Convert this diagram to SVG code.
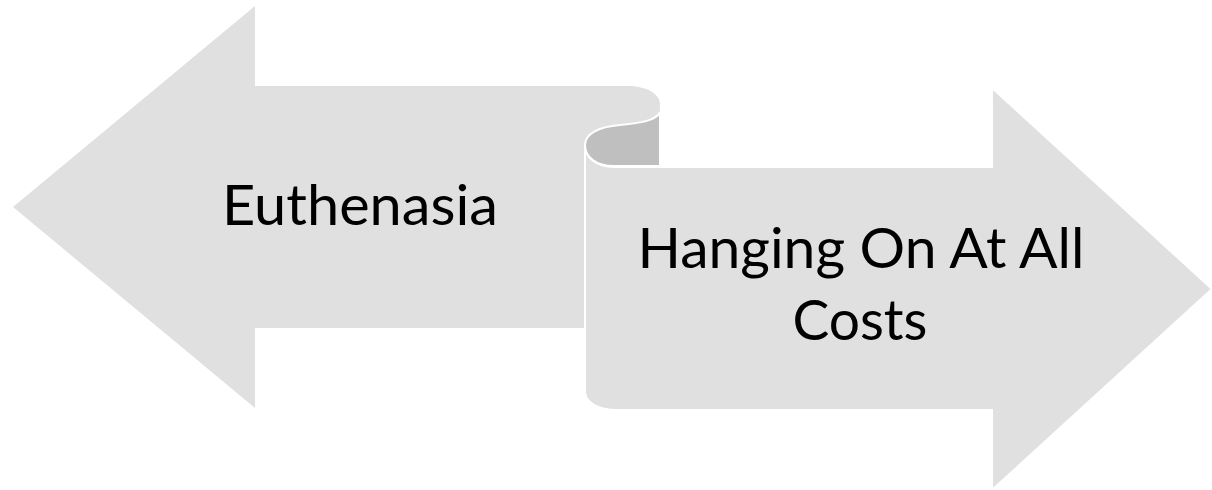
<svg xmlns="http://www.w3.org/2000/svg" width="1212" height="490" viewBox="0 0 1212 490">
  <style>
    .light { fill: #e0e0e0; }
    .edge { stroke: #ffffff; stroke-width: 2; }
    .dark { fill: #bfbfbf; }
    .label { font-family: Lato, "Liberation Sans", Arial, sans-serif; font-size: 56px; fill: #000000; text-anchor: middle; }
  </style>
  <rect width="1212" height="490" fill="#ffffff"/>
  <g id="node-euthenasia">
    <path class="light" d="M13,207 L255,6 L255,86 L627,86 C647,86 660,94 660,104 L660,328 L255,328 L255,408 Z"/>
    <text class="label" x="360" y="225" textLength="276" lengthAdjust="spacingAndGlyphs">Euthenasia</text>
  </g>
  <g id="node-hanging-on">
    <path class="light edge" d="M585,145 C585,157 596,167 614,167 L992,167 L992,88 L1212,289 L992,490 L992,410 L617,410 C598,410 585,402 585,392 Z"/>
    <path class="dark edge" d="M660,112 C656,121 640,123 620,125 C598,127 585,134 585,145 C585,157 596,166 614,166 L660,166 Z"/>
    <text class="label" x="861" y="268" textLength="447" lengthAdjust="spacingAndGlyphs">Hanging On At All</text>
    <text class="label" x="860" y="340" textLength="135" lengthAdjust="spacingAndGlyphs">Costs</text>
  </g>
  <g id="connectors"></g>
</svg>
